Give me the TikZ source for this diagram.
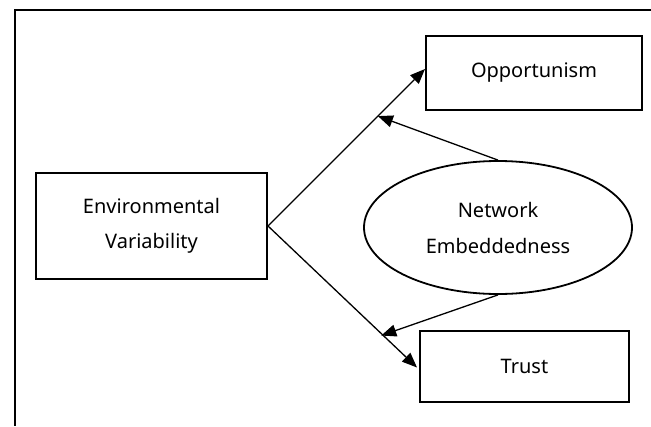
\documentclass[tikz,border=0pt]{standalone}
\usepackage{fontspec}
\setmainfont{Noto Sans}
\usetikzlibrary{arrows.meta,shapes.geometric,calc}
\begin{document}
\begin{tikzpicture}[x=1pt,y=-1pt,
  box/.style={draw,line width=2pt,inner sep=0pt,align=center,
    font=\fontsize{20}{35}\selectfont},
  oval/.style={draw,ellipse,line width=1.8pt,inner sep=0pt,align=center,
    font=\fontsize{20}{36}\selectfont},
  link/.style={line width=1.3pt,-{Triangle[length=15pt,width=12pt]}},
  frame/.style={line width=2pt}]
  \useasboundingbox (0,0) rectangle (651,426);
  % outer frame (top and left sides only)
  \draw[frame] (651,10) -- (15,10) -- (15,426);
  % constructs
  \node[box,minimum width=231pt,minimum height=106pt] (env) at (151.5,226) {Environmental\\Variability};
  \node[box,minimum width=216pt,minimum height=74pt] (opp) at (534,73) {Opportunism};
  \node[box,minimum width=209pt,minimum height=71pt] (tru) at (524.5,366.5) {Trust};
  \node[oval,minimum width=268pt,minimum height=133pt] (net) at (498,227.5) {Network\\Embeddedness};
  % arrow end points
  \coordinate (oppin) at ($(opp.west)+(0,-4)$);
  \coordinate (truin) at ($(tru.west)+(-2,1)$);
  \coordinate (m1) at ($(env.east)!0.70!(oppin)$);
  \coordinate (m2) at ($(env.east)!0.76!(truin)+(0,2)$);
  % main effects
  \draw[link] (env.east) -- (oppin);
  \draw[link] (env.east) -- (truin);
  % moderating effects
  \draw[link] (net.north) -- (m1);
  \draw[link] (net.south) -- (m2);
\end{tikzpicture}
\end{document}
